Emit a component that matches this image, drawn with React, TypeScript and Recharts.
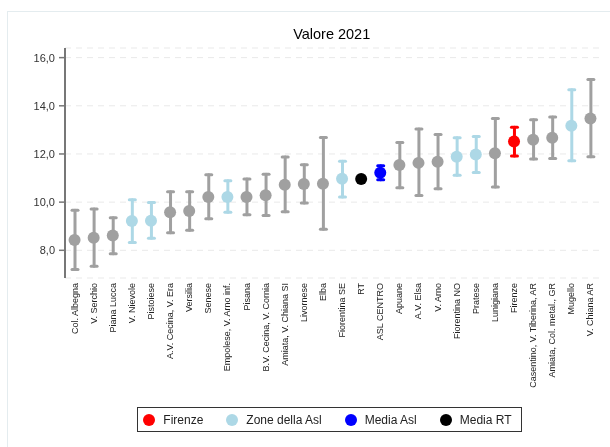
import { Bar, CartesianGrid, ComposedChart, Line, XAxis, YAxis } from "recharts"

// zone in ordine crescente di valore
const zone = [
  "Col. Albegna", "V. Serchio", "Piana Lucca", "V. Nievole", "Pistoiese",
  "A.V. Cecina, V. Era", "Versilia", "Senese", "Empolese, V. Arno inf.", "Pisana",
  "B.V. Cecina, V. Cornia", "Amiata, V. Chiana SI", "Livornese", "Elba", "Fiorentina SE",
  "RT", "ASL CENTRO", "Apuane", "A.V. Elsa", "V. Arno",
  "Fiorentina NO", "Pratese", "Lunigiana", "Firenze", "Casentino, V. Tiberina, AR",
  "Amiata, Col. metal., GR", "Mugello", "V. Chiana AR",
]
const valori = [
  8.43, 8.52, 8.61, 9.22, 9.23, 9.58, 9.63, 10.21, 10.21, 10.21,
  10.29, 10.72, 10.75, 10.76, 10.97, 10.96, 11.22, 11.54, 11.63, 11.68,
  11.88, 11.98, 12.03, 12.52, 12.59, 12.67, 13.17, 13.47,
]
const inferiore = [
  7.2, 7.34, 7.86, 8.32, 8.5, 8.73, 8.83, 9.31, 9.58, 9.48,
  9.44, 9.6, 9.96, 8.87, 10.21, 10.92, 10.93, 10.6, 10.28, 10.56,
  11.12, 11.23, 10.63, 11.92, 11.79, 11.81, 11.72, 11.88,
]
const superiore = [
  9.66, 9.71, 9.35, 10.1, 9.99, 10.43, 10.43, 11.14, 10.89, 10.96,
  11.16, 11.87, 11.55, 12.68, 11.7, 11.0, 11.51, 12.48, 13.04, 12.81,
  12.67, 12.73, 13.47, 13.11, 13.42, 13.53, 14.67, 15.09,
]
// f = Firenze, z = zone della Asl, a = media Asl, r = media RT, o = altre zone
const gruppi = [
  "o", "o", "o", "z", "z", "o", "o", "o", "z", "o",
  "o", "o", "o", "o", "z", "r", "a", "o", "o", "o",
  "z", "z", "o", "f", "o", "o", "z", "o",
]
const tickY = [8, 10, 12, 14, 16]

const colori: Record<string, string> = {
  f: "#ff0000",
  z: "#add8e6",
  a: "#0000ff",
  r: "#000000",
  o: "#a0a0a0",
}

const voci = [
  { label: "Firenze", color: colori.f },
  { label: "Zone della Asl", color: colori.z },
  { label: "Media Asl", color: colori.a },
  { label: "Media RT", color: colori.r },
]

const data = zone.map((nome, i) => ({
  nome,
  valore: valori[i],
  intervallo: [inferiore[i], superiore[i]],
  gruppo: gruppi[i],
}))

const Baffi = (props: any) => {
  const { x, y, width, height, payload } = props
  const c = colori[payload.gruppo]
  const cx = x + width / 2
  return (
    <g stroke={c} strokeWidth={3} strokeLinecap="round">
      <line x1={cx} x2={cx} y1={y} y2={y + height} />
      <line x1={cx - 3} x2={cx + 3} y1={y} y2={y} />
      <line x1={cx - 3} x2={cx + 3} y1={y + height} y2={y + height} />
    </g>
  )
}

const Punto = (props: any) => {
  const { cx, cy, payload, index } = props
  return <circle key={index} cx={cx} cy={cy} r={6} fill={colori[payload.gruppo]} />
}

const EtichettaX = (props: any) => {
  const { x, y, payload } = props
  return (
    <text
      x={x}
      y={y}
      transform={`rotate(-90, ${x}, ${y})`}
      textAnchor="end"
      dominantBaseline="central"
      fontSize={9}
      fill="#222"
    >
      {payload.value}
    </text>
  )
}

export default function App() {
  return (
    <div
      style={{
        position: "fixed",
        left: 7,
        top: 11,
        width: 640,
        height: 470,
        border: "1px solid #e4ecef",
        fontFamily: "'Liberation Sans', Arial, sans-serif",
      }}
    >
      <div
        style={{
          position: "absolute",
          left: 323.7,
          top: 15.2,
          transform: "translateX(-50%)",
          fontSize: 14.5,
          lineHeight: "14.5px",
          whiteSpace: "nowrap",
          color: "#000",
        }}
      >
        Valore 2021
      </div>
      <ComposedChart
        width={602}
        height={435}
        data={data}
        margin={{ top: 36, right: 10, bottom: 9, left: 0 }}
      >
        <CartesianGrid vertical={false} stroke="#e9e9e9" strokeDasharray="6 5" />
        <XAxis
          dataKey="nome"
          interval={0}
          axisLine={false}
          tickLine={false}
          tickSize={0}
          tickMargin={5}
          height={160}
          tick={<EtichettaX />}
        />
        <YAxis
          domain={[6.85, 16.4]}
          ticks={tickY}
          allowDataOverflow
          width={57}
          tickSize={6}
          tickMargin={4}
          axisLine={{ stroke: "#777", strokeWidth: 2 }}
          tickLine={{ stroke: "#777", strokeWidth: 1.5 }}
          tick={{ fill: "#333", fontSize: 11 }}
          tickFormatter={(v: number) => v.toFixed(1).replace(".", ",")}
        />
        <Bar dataKey="intervallo" barSize={10} shape={<Baffi />} isAnimationActive={false} />
        <Line
          dataKey="valore"
          stroke="none"
          dot={Punto}
          activeDot={false}
          isAnimationActive={false}
        />
      </ComposedChart>
      <div
        style={{
          position: "absolute",
          left: 129.3,
          top: 395.3,
          height: 23,
          display: "flex",
          alignItems: "center",
          border: "1px solid #333",
          padding: "0 9px 0 5px",
          fontSize: 12,
          color: "#222",
        }}
      >
        {voci.map((v, i) => (
          <div
            key={v.label}
            style={{ display: "flex", alignItems: "center", marginLeft: i === 0 ? 0 : 23 }}
          >
            <span
              style={{
                width: 12,
                height: 12,
                borderRadius: "50%",
                background: v.color,
                marginRight: 8,
              }}
            />
            <span>{v.label}</span>
          </div>
        ))}
      </div>
    </div>
  )
}
